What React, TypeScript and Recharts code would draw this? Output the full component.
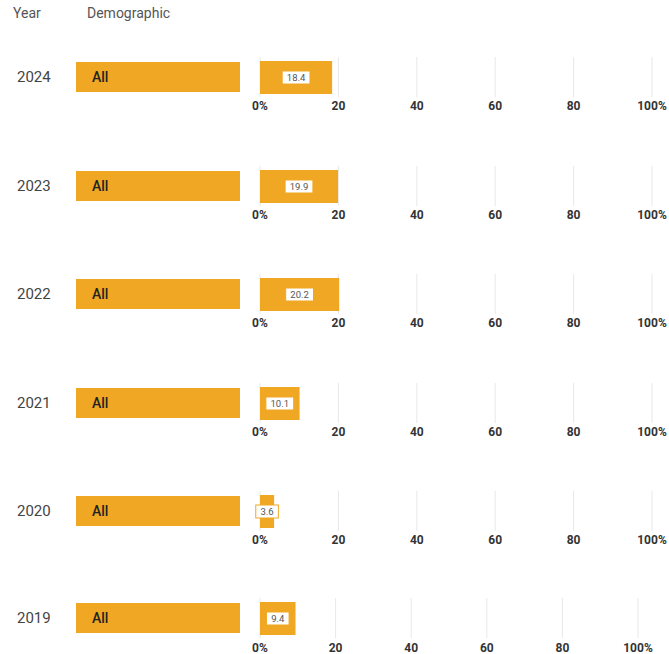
import React from "react";
import {
  BarChart,
  Bar,
  XAxis,
  YAxis,
  CartesianGrid,
  LabelList,
} from "recharts";

const years = ["2024", "2023", "2022", "2021", "2020", "2019"];
const demographics = ["All", "All", "All", "All", "All", "All"];
const values = [18.4, 19.9, 20.2, 10.1, 3.6, 9.4];
const ticks = [0, 20, 40, 60, 80, 100];

const ORANGE = "#F0A824";
const FONT = "Roboto, 'Noto Sans', sans-serif";

const ROW_TOPS = [57, 166, 274, 383, 491, 598];

const formatTick = (v: number) => (v === 0 || v === 100 ? `${v}%` : `${v}`);

const ValueLabel = (props: any) => {
  const { x, y, width, height, value } = props;
  const cx = x + width / 2;
  const cy = y + height / 2;
  const text = String(value);
  const w = text.length * 5.2 + 7;
  return (
    <g>
      <rect
        x={cx - w / 2}
        y={cy - 6.5}
        width={w}
        height={13}
        fill="#fff"
        stroke={ORANGE}
        strokeWidth={1}
      />
      <text
        x={cx}
        y={cy}
        textAnchor="middle"
        dominantBaseline="central"
        fontSize={9.5}
        fill="#555"
        fontFamily={FONT}
      >
        {text}
      </text>
    </g>
  );
};

function RowChart({ year, value, last }: { year: string; value: number; last: boolean }) {
  const plotWidth = last ? 378 : 392;
  const data = [{ year, value }];
  return (
    <BarChart
      width={10 + plotWidth + 17}
      height={last ? 56 : 60}
      data={data}
      layout="vertical"
      margin={{ top: 0, right: 17, bottom: 0, left: 10 }}
    >
      <CartesianGrid horizontal={false} vertical stroke="#e8e8e8" />
      <XAxis
        type="number"
        domain={[0, 100]}
        ticks={ticks}
        tickFormatter={formatTick}
        axisLine={false}
        tickLine={false}
        tickSize={0}
        tickMargin={last ? 5 : 4}
        height={last ? 16 : 20}
        interval={0}
        tick={{ fontSize: 12, fontWeight: 700, fill: "#333", fontFamily: FONT }}
      />
      <YAxis
        type="category"
        dataKey="year"
        width={0}
        tick={false}
        tickLine={false}
        axisLine={{ stroke: "#666", strokeWidth: 1 }}
      />
      <Bar dataKey="value" fill={ORANGE} barSize={33} isAnimationActive={false}>
        <LabelList dataKey="value" content={ValueLabel} />
      </Bar>
    </BarChart>
  );
}

export default function App() {
  return (
    <div
      style={{
        position: "absolute",
        left: 0,
        top: 0,
        width: 669,
        height: 654,
        background: "#fff",
        fontFamily: FONT,
        overflow: "hidden",
      }}
    >
      <div style={{ position: "absolute", left: 13, top: 5, fontSize: 14, color: "#555" }}>Year</div>
      <div style={{ position: "absolute", left: 87, top: 5, fontSize: 14, color: "#555" }}>
        Demographic
      </div>
      {years.map((year, i) => {
        const top = ROW_TOPS[i];
        return (
          <React.Fragment key={year}>
            <div
              style={{
                position: "absolute",
                left: 17,
                top: top + 10,
                height: 21,
                lineHeight: "21px",
                fontSize: 15,
                color: "#444",
              }}
            >
              {year}
            </div>
            <div
              style={{
                position: "absolute",
                left: 76,
                top: top + 5,
                width: 164,
                height: 30,
                background: ORANGE,
                lineHeight: "30px",
                fontSize: 14,
                fontWeight: 500,
                color: "#222",
                boxSizing: "border-box",
                paddingLeft: 16,
              }}
            >
              {demographics[i]}
            </div>
            <div style={{ position: "absolute", left: 250, top }}>
              <RowChart year={year} value={values[i]} last={i === years.length - 1} />
            </div>
          </React.Fragment>
        );
      })}
    </div>
  );
}
